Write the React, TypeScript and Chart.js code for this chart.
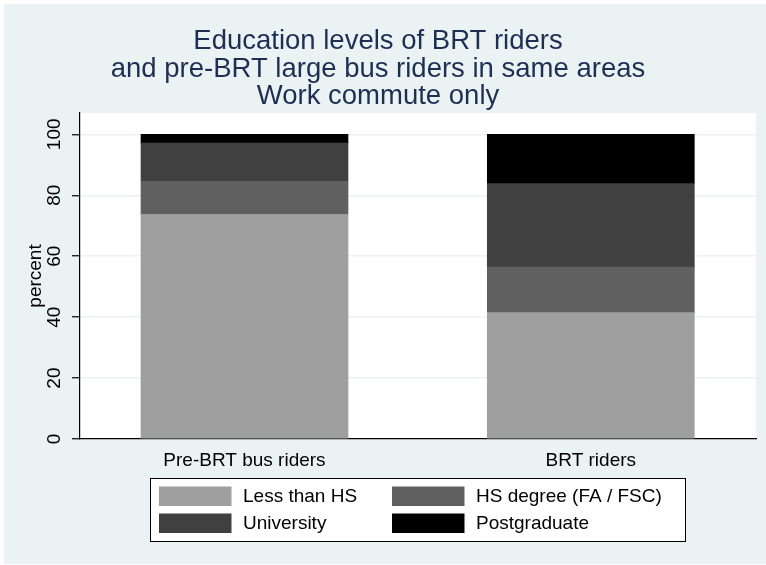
import React, { useEffect, useRef } from 'react';
import { Chart, registerables } from 'chart.js';

Chart.register(...registerables);

const categories = ['Pre-BRT bus riders', 'BRT riders'];
const seriesLabels = ['Less than HS', 'HS degree (FA / FSC)', 'University', 'Postgraduate'];
const lessThanHS = [73.7, 41.5];
const hsDegree = [10.9, 14.9];
const university = [12.5, 27.4];
const postgraduate = [2.9, 16.2];
const seriesColors = ['#9f9f9f', '#606060', '#404040', '#000000'];
const yTicks = [0, 20, 40, 60, 80, 100];
const titleLines = [
  'Education levels of BRT riders',
  'and pre-BRT large bus riders in same areas',
  'Work commute only',
];

const FONT = "'Liberation Sans', Arial, Helvetica, sans-serif";
const BG = '#eaf2f3';

const backgroundPlugin = {
  id: 'stataBackground',
  beforeDraw(chart: any) {
    const { ctx, width, height, chartArea } = chart;
    ctx.save();
    ctx.fillStyle = '#ffffff';
    ctx.fillRect(0, 0, width, height);
    ctx.fillStyle = BG;
    ctx.fillRect(4, 4, width - 4, height - 5);
    ctx.fillStyle = '#ffffff';
    ctx.fillRect(chartArea.left, chartArea.top, chartArea.right - chartArea.left, chartArea.bottom - chartArea.top);
    ctx.restore();
  },
};

const legendPlugin = {
  id: 'stataLegend',
  afterDraw(chart: any) {
    const { ctx } = chart;
    const ds = chart.data.datasets;
    ctx.save();
    ctx.fillStyle = '#ffffff';
    ctx.fillRect(150, 478, 535, 63);
    ctx.strokeStyle = '#000000';
    ctx.lineWidth = 1;
    ctx.strokeRect(150.5, 478.5, 535, 63);
    const colX = [159, 392];
    const rowY = [486.5, 513.5];
    ctx.font = `19px ${FONT}`;
    ctx.textBaseline = 'middle';
    ctx.textAlign = 'left';
    ds.forEach((d: any, i: number) => {
      const cx = colX[i % 2];
      const ry = rowY[Math.floor(i / 2)];
      ctx.fillStyle = d.backgroundColor;
      ctx.fillRect(cx, ry, 72.5, 19.5);
      ctx.fillStyle = '#000000';
      ctx.fillText(d.label, cx + 84, ry + 10.5);
    });
    ctx.restore();
  },
};

export default function App() {
  const ref = useRef<HTMLCanvasElement | null>(null);

  useEffect(() => {
    if (!ref.current) return;
    const seriesValues = [lessThanHS, hsDegree, university, postgraduate];
    const chart = new Chart(ref.current, {
      type: 'bar',
      data: {
        datasets: seriesValues.map((vals, k) => ({
          label: seriesLabels[k],
          data: vals.map((v, i) => ({ x: i, y: v })),
          backgroundColor: seriesColors[k],
          borderWidth: 0,
          barThickness: 207,
        })),
      },
      options: {
        responsive: false,
        animation: false,
        devicePixelRatio: 1,
        layout: { padding: { left: 0, right: 10, top: 0, bottom: 0 } },
        plugins: {
          legend: { display: false },
          tooltip: { enabled: false },
          title: {
            display: true,
            text: titleLines,
            color: '#1e2f52',
            font: { family: FONT, size: 27.5, weight: 'normal', lineHeight: 1.0 },
            padding: { top: 28, bottom: 2.5 },
          },
        },
        scales: {
          x: {
            type: 'linear',
            stacked: true,
            offset: false,
            min: -0.475,
            max: 1.477,
            grid: { display: false, offset: false },
            border: { display: true, color: '#000000', width: 1.2 },
            afterBuildTicks: (scale: any) => {
              scale.ticks = categories.map((_, i) => ({ value: i }));
            },
            afterFit: (scale: any) => {
              scale.height = 126;
            },
            ticks: {
              color: '#000000',
              font: { family: FONT, size: 19 },
              padding: 2,
              autoSkip: false,
              maxRotation: 0,
              minRotation: 0,
              callback: (v: any) => categories[Math.round(Number(v))] ?? '',
            },
          },
          y: {
            stacked: true,
            min: 0,
            max: 107,
            grid: {
              color: BG,
              lineWidth: 1.5,
              drawTicks: true,
              tickLength: 8,
              tickColor: '#000000',
              tickWidth: 1.2,
            },
            border: { display: true, color: '#000000', width: 1.2 },
            afterBuildTicks: (scale: any) => {
              scale.ticks = yTicks.map((v) => ({ value: v }));
            },
            afterFit: (scale: any) => {
              scale.width = 80;
            },
            ticks: {
              color: '#000000',
              font: { family: FONT, size: 19 },
              padding: 1,
              minRotation: 90,
              maxRotation: 90,
              crossAlign: 'center',
            },
            title: {
              display: true,
              text: 'percent',
              color: '#000000',
              font: { family: FONT, size: 19 },
              padding: { top: 24, bottom: 0 },
            },
          },
        },
      },
      plugins: [backgroundPlugin, legendPlugin],
    } as any);
    return () => chart.destroy();
  }, []);

  return (
    <div style={{ position: 'absolute', left: 0, top: 0, width: 766, height: 565 }}>
      <canvas ref={ref} width={766} height={565} style={{ display: 'block' }} />
    </div>
  );
}
